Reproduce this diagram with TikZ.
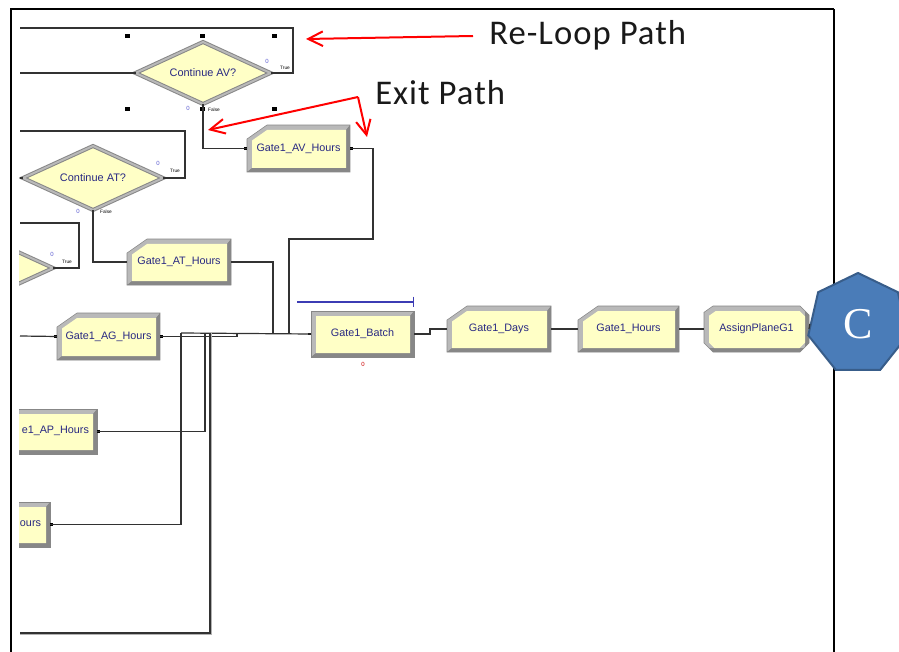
\documentclass[tikz,border=0pt]{standalone}
\usepackage{fontspec}
\setmainfont{Liberation Sans}
\newfontfamily\calfont{Carlito}
\newfontfamily\serfont{Liberation Serif}
\usetikzlibrary{shapes.geometric,arrows.meta,calc}

\definecolor{modyel}{RGB}{255,255,198}
\definecolor{modlt}{RGB}{185,185,185}
\definecolor{moddk}{RGB}{135,135,135}
\definecolor{modtxt}{RGB}{40,40,130}
\definecolor{connc}{RGB}{50,50,50}
\definecolor{hepfill}{RGB}{74,124,184}
\definecolor{hepdraw}{RGB}{56,93,138}
\definecolor{zeroblue}{RGB}{95,95,210}
\definecolor{batchblue}{RGB}{60,60,180}

\newcommand\armmod[8]{%
 \begin{scope}
  \clip ({#2+#6},#3) -- ({#4-#7},#3) -- (#4,{#3+#7}) -- (#4,{#5-#7}) -- ({#4-#7},#5) -- ({#2+#7},#5) -- (#2,{#5-#7}) -- (#2,{#3+0.7*#6}) -- cycle;
  \fill[modlt] (#2,#3) rectangle (#4,#5);
  \fill[moddk] (#4,#3) -- (#4,#5) -- (#2,#5) -- ({#2+5},{#5-4}) -- ({#4-4},{#5-4}) -- ({#4-4},{#3+5}) -- cycle;
 \end{scope}
 \draw[moddk, line width=0.4pt] ({#2+#6},#3) -- ({#4-#7},#3) -- (#4,{#3+#7}) -- (#4,{#5-#7}) -- ({#4-#7},#5) -- ({#2+#7},#5) -- (#2,{#5-#7}) -- (#2,{#3+0.7*#6}) -- cycle;
 \fill[modyel] ({#2+5+0.75*#6},{#3+5}) -- ({#4-4-0.6*#7},{#3+5}) -- ({#4-4},{#3+5+0.6*#7}) -- ({#4-4},{#5-4-0.6*#7}) -- ({#4-4-0.6*#7},{#5-4}) -- ({#2+5+0.6*#7},{#5-4}) -- ({#2+5},{#5-4-0.6*#7}) -- ({#2+5},{#3+5+0.525*#6}) -- cycle;
 \node[modtext, minimum width={(#4-(#2))*0.75pt}, minimum height={(#5-(#3))*0.75pt}] (#1) at ({(#2+#4)/2},{(#3+#5)/2}) {#8};
 \fill[black] ($(#1.east)+(0,-1.2)$) rectangle ($(#1.east)+(3,1.2)$);
 \fill[black] ($(#1.west)+(0,-1.2)$) rectangle ($(#1.west)+(-3,1.2)$);
}

\begin{document}
\begin{tikzpicture}[x=0.75pt,y=-0.75pt,
  modtext/.style={inner sep=0pt,outer sep=0pt,font=\fontsize{8.1}{9}\selectfont,text=modtxt},
  diam/.style={shape=diamond, draw=moddk, double=modlt, double distance=1.5pt, line width=0.75pt,
     fill=modyel, inner sep=0pt, outer sep=0pt, aspect=2.2,
     font=\fontsize{8.2}{9}\selectfont, text=modtxt},
  connline/.style={draw=connc, line width=0.9pt},
  handle/.style={fill=black},
  tinylab/.style={inner sep=0pt, font=\fontsize{3.6}{4}\selectfont, text=black},
  zerolab/.style={inner sep=0pt, font=\fontsize{4.5}{5}\selectfont, text=zeroblue},
  redarr/.style={draw=red, line width=1.5pt, -{Straight Barb[length=11pt,width=11pt,line width=1.5pt]}},
  calltext/.style={inner sep=0pt, font=\calfont\fontsize{26}{26}\selectfont\addfontfeatures{LetterSpace=3}, text=black!90}
]
\useasboundingbox (0,0) rectangle (899,652);
\fill[white] (0,0) rectangle (899,652);

% ---------- outer frame ----------
\draw[black, line width=2pt] (11,662) -- (11,9) -- (834,9);
\draw[black, line width=1.1pt] (834,9) -- (834,662);

\begin{scope}
\clip (19,0) rectangle (899,652);

% ---------- modules ----------
\armmod{avh}{247}{125}{350}{172}{20}{0}{Gate1\_AV\_Hours}
\armmod{ath}{127}{239}{231}{285}{20}{0}{Gate1\_AT\_Hours}
\armmod{agh}{57}{313}{160}{360}{20}{0}{Gate1\_AG\_Hours}
\armmod{aph}{-6}{409}{97}{454}{0}{0}{}
\node[modtext, anchor=east] (aptext) at (89,431) {e1\_AP\_Hours};
\armmod{ourh}{-53}{502}{50}{547}{0}{0}{}
\node[modtext, anchor=east] (ourtext) at (41,524) {ours};
\armmod{batch}{311}{311}{414}{357}{0}{0}{Gate1\_Batch}
\armmod{days}{447}{306}{551}{352}{20}{0}{Gate1\_Days}
\armmod{hours}{578}{306}{679}{352}{20}{0}{Gate1\_Hours}
\armmod{asg}{704}{306}{809}{352}{9}{9}{AssignPlaneG1}

% ---------- decide diamonds ----------
\node[diam, minimum width=101.25pt, minimum height=46.5pt] (cav) at (203,73) {Continue AV?};
\node[diam, minimum width=105pt, minimum height=48pt] (cat) at (93,178) {Continue AT?};
\node[diam, minimum width=105pt, minimum height=48pt] (cag) at (-17,268) {};

% ---------- selection handles ----------
\foreach \hx/\hy in {127/36,202/36,274/36,127/109,274/109,202/109}
  \fill[handle] (\hx-2.5,\hy-2) rectangle (\hx+2.5,\hy+2);

% ---------- named free ends ----------
\coordinate (avin) at (20,73);
\coordinate (avloopR) at (293,28);
\coordinate (avloopL) at (20,28);
\coordinate (atin) at (20,178);
\coordinate (atloopR) at (185,131);
\coordinate (atloopL) at (20,131);
\coordinate (agloopR) at (79,223);
\coordinate (agloopL) at (20,223);
\coordinate (agin) at (20,336);
\coordinate (j1) at (373,239);
\coordinate (j2) at (289,239);
\coordinate (m1) at (289,333);
\coordinate (m2) at (273,333);
\coordinate (m3) at (205,333);
\coordinate (m4) at (181,333);
\coordinate (m5) at (210,333);
\coordinate (jag) at (237,333);
\coordinate (botL) at (20,633);

% ---------- connectors ----------
\draw[connline] (avin) -- (cav.west);
\draw[connline] (cav.east) -| (avloopR) -- (avloopL);
\draw[connline] (cav.south) |- (avh.west);
\draw[connline] (avh.east) -| (j1) -- (j2) -- (m1);
\draw[connline] (atin) -- (cat.west);
\draw[connline] (cat.east) -| (atloopR) -- (atloopL);
\draw[connline] (cat.south) |- (ath.west);
\draw[connline] (ath.east) -| (m2);
\draw[connline] (cag.east) -| (agloopR) -- (agloopL);
\draw[connline] (agin) -- (agh.west);
\draw[connline] (agh.east) -| (jag);
\draw[connline] (m4) -- (batch.west);
\draw[connline] (aph.east) -| (m3);
\draw[connline] (ourh.east) -| (m4);
\draw[draw=gray!60, line width=1.6pt] ($(botL)+(0,1)$) -| ($(m5)+(1,0)$);
\draw[connline] (botL) -| (m5);
\draw[connline] (batch.east) -- ++(16,0) |- (days.west);
\draw[connline] (days.east) -- (hours.west);
\draw[connline] (hours.east) -- (asg.west);

% ---------- small labels ----------
\node[tinylab] (tav) at (285,68) {True};
\node[tinylab] (fav) at (214,110) {False};
\node[zerolab] (zav1) at (267,61) {0};
\node[zerolab] (zav2) at (188,108) {0};
\node[tinylab] (tat) at (175,171) {True};
\node[tinylab] (fat) at (106,212) {False};
\node[zerolab] (zat1) at (158,163) {0};
\node[zerolab] (zat2) at (78,211) {0};
\node[tinylab] (tag) at (67,262) {True};
\node[zerolab] (zag1) at (52,254) {0};
\node[inner sep=0pt, font=\fontsize{4.5}{5}\selectfont, text=red!80!black] (zbatch) at (363,364) {0};

% ---------- batch queue line ----------
\coordinate (qL) at (297,302);
\coordinate (qR) at (414,302);
\draw[batchblue, line width=1pt, -{Bar[width=8pt]}] (qL) -- (qR);
\end{scope}

% ---------- connector C ----------
\node[regular polygon, regular polygon sides=7, minimum size=76.5pt, fill=hepfill, draw=hepdraw,
      line width=1.5pt, inner sep=0pt, text=white, font=\serfont\fontsize{33}{33}\selectfont] (cnode) at (858,324) {C};
\draw[connline] (asg.east) -- (cnode.west);

% ---------- annotations ----------
\node[calltext, anchor=base west] (reloop) at (489,45) {Re-Loop Path};
\node[calltext, anchor=base west] (exitp) at (375,105) {Exit Path};
\coordinate (rlstart) at (473,36);
\coordinate (rltip) at (306,39);
\coordinate (exapex) at (358,97);
\coordinate (extip1) at (208,130);
\coordinate (extip2) at (367,137);
\draw[redarr] (rlstart) -- (rltip);
\draw[redarr] (exapex) -- (extip1);
\draw[redarr] (exapex) -- (extip2);
\end{tikzpicture}
\end{document}
